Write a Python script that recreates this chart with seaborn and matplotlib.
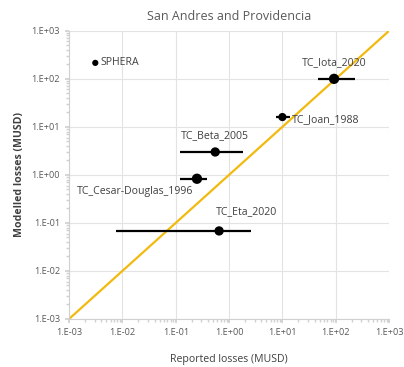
import numpy as np
import pandas as pd
import matplotlib
matplotlib.use("Agg")
import matplotlib.pyplot as plt
import matplotlib.ticker as mticker
import seaborn as sns

# Data
events = ["SPHERA", "TC_Iota_2020", "TC_Joan_1988", "TC_Beta_2005",
          "TC_Cesar-Douglas_1996", "TC_Eta_2020"]
reported = [0.0031, 93, 10, 0.55, 0.25, 0.65]
modelled = [215, 100, 16, 3.0, 0.83, 0.068]
reported_low = [np.nan, 47, 7.5, 0.12, 0.12, 0.0076]
reported_high = [np.nan, 225, 14, 1.8, 0.39, 2.6]
label_dx = [4, 0, 7, 0, -3, 20]
label_dy = [0, 12, -2, 11.5, -9, 14]
label_ha = ["left", "center", "left", "center", "right", "center"]

one_to_one = [1e-3, 1e3]

df = pd.DataFrame({"event": events, "reported": reported, "modelled": modelled,
                   "low": reported_low, "high": reported_high})

sns.set_theme(style="white")
plt.rcParams["font.family"] = ["Open Sans", "DejaVu Sans"]

fig = plt.figure(figsize=(4.04, 3.67), dpi=100)
ax = fig.add_axes([0.171, 0.131, 0.792, 0.785])

# 1:1 line
sns.lineplot(x=one_to_one, y=one_to_one, ax=ax, color="#F2B90F", linewidth=1.6, zorder=2)

# horizontal error bars
err = df.dropna()
ax.hlines(err["modelled"], err["low"], err["high"], color="black", linewidth=1.6, zorder=3)

sizes = [20, 55, 35, 45, 55, 45]
sns.scatterplot(data=df, x="reported", y="modelled", ax=ax, color="black",
                s=sizes, edgecolor="black", linewidth=0, zorder=4, legend=False)

for i, row in df.iterrows():
    ax.annotate(row["event"], (row["reported"], row["modelled"]),
                xytext=(label_dx[i], label_dy[i]), textcoords="offset points",
                ha=label_ha[i], va="center", fontsize=7.6, color="#404040")

ax.set_xscale("log")
ax.set_yscale("log")
ax.set_xlim(1e-3, 1e3)
ax.set_ylim(1e-3, 1e3)

fmt = mticker.FuncFormatter(lambda v, p: f"1.E{int(round(np.log10(v))):+03d}")
ax.xaxis.set_major_locator(mticker.LogLocator(base=10, numticks=10))
ax.yaxis.set_major_locator(mticker.LogLocator(base=10, numticks=10))
ax.xaxis.set_major_formatter(fmt)
ax.yaxis.set_major_formatter(fmt)
ax.xaxis.set_minor_locator(mticker.LogLocator(base=10, subs=np.arange(2, 10), numticks=12))
ax.yaxis.set_minor_locator(mticker.LogLocator(base=10, subs=np.arange(2, 10), numticks=12))
ax.xaxis.set_minor_formatter(mticker.NullFormatter())
ax.yaxis.set_minor_formatter(mticker.NullFormatter())

ax.tick_params(axis="both", which="major", labelsize=6.6, labelcolor="#595959",
               length=3, color="#D0D0D0", direction="out", bottom=True, left=True)
ax.tick_params(axis="both", which="minor", length=2, color="#D0D0D0",
               direction="out", bottom=True, left=True)

ax.grid(True, which="major", color="#E3E3E3", linewidth=0.8)
for s in ["top", "right"]:
    ax.spines[s].set_visible(False)
for s in ["left", "bottom"]:
    ax.spines[s].set_color("#D0D0D0")
    ax.spines[s].set_linewidth(0.8)

ax.set_title("San Andres and Providencia", fontsize=9, color="#595959", pad=8)
ax.set_xlabel("Reported losses (MUSD)", fontsize=7.6, color="#404040", labelpad=12)
ax.set_ylabel("Modelled losses (MUSD)", fontsize=7.6, color="#404040",
              fontweight="bold", labelpad=5)

fig.savefig("out.png", dpi=100)
